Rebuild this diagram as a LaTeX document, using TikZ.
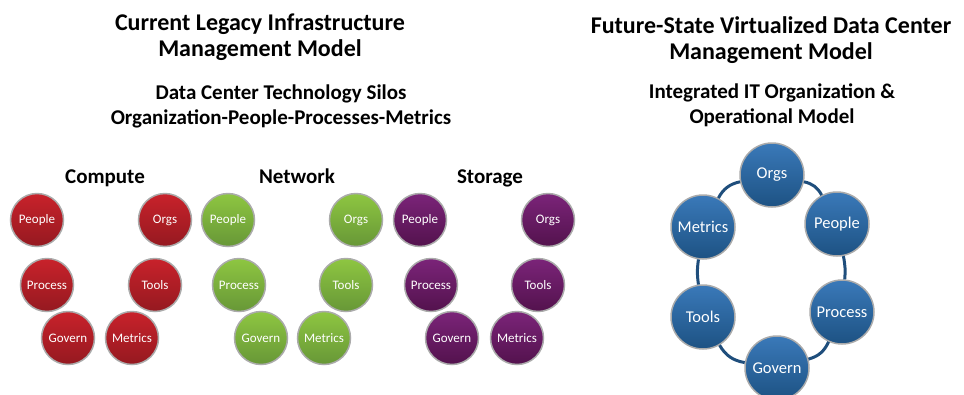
\documentclass[tikz,border=0pt]{standalone}
\usepackage{fontspec}
\setmainfont{Carlito}
\usepackage{tikz}
\usetikzlibrary{positioning}

\definecolor{computetop}{HTML}{C8222B}
\definecolor{computebot}{HTML}{951920}
\definecolor{networktop}{HTML}{8EC641}
\definecolor{networkbot}{HTML}{679737}
\definecolor{storagetop}{HTML}{7B2479}
\definecolor{storagebot}{HTML}{53124D}
\definecolor{ringtop}{HTML}{3A79B9}
\definecolor{ringbot}{HTML}{1D5283}
\definecolor{ringline}{HTML}{1F4E7C}
\definecolor{rim}{HTML}{ABABAB}

\tikzset{
	title/.style={align=center, font=\fontsize{24}{26}\selectfont\bfseries},
	subtitle/.style={align=center, font=\fontsize{21}{25}\selectfont\bfseries},
	silohead/.style={anchor=base, font=\fontsize{21}{22}\selectfont\bfseries},
	silo/.style={circle, draw=rim, line width=1.5pt, minimum size=53pt, inner sep=0pt, text=white, font=\fontsize{13}{13}\selectfont},
	computesilo/.style={silo, top color=computetop, bottom color=computebot},
	networksilo/.style={silo, top color=networktop, bottom color=networkbot},
	storagesilo/.style={silo, top color=storagetop, bottom color=storagebot},
	ringnode/.style={circle, draw=rim, line width=1.5pt, minimum size=64pt, inner sep=0pt, text=white, top color=ringtop, bottom color=ringbot, font=\fontsize{16.5}{16.5}\selectfont},
	ringlink/.style={draw=ringline, line width=3pt}
}

\begin{document}
\begin{tikzpicture}[x=1pt, y=1pt]
			\useasboundingbox (0,0) rectangle (964,-394);
			
			% left half: three silos
			\node[title] (lefttitle) at (260,-37) {Current Legacy Infrastructure\\Management Model};
			\node[subtitle] (leftsub) at (281,-106) {Data Center Technology Silos\\Organization-People-Processes-Metrics};
			
			\node[silohead] (compute) at (105,-183) {Compute};
			\node[silohead] (network) at (297,-183) {Network};
			\node[silohead] (storage) at (490,-183) {Storage};
			
			\node[computesilo] (cpeople) at (37,-220) {People};
			\node[computesilo] (corgs) at (165,-220) {Orgs};
			\node[computesilo] (cprocess) at (47,-285) {Process};
			\node[computesilo] (ctools) at (155,-285) {Tools};
			\node[computesilo] (cgovern) at (68,-338) {Govern};
			\node[computesilo] (cmetrics) at (132,-338) {Metrics};
			
			\node[networksilo] (npeople) at (228,-220) {People};
			\node[networksilo] (norgs) at (356,-220) {Orgs};
			\node[networksilo] (nprocess) at (239,-285) {Process};
			\node[networksilo] (ntools) at (346,-285) {Tools};
			\node[networksilo] (ngovern) at (261,-338) {Govern};
			\node[networksilo] (nmetrics) at (324,-338) {Metrics};
			
			\node[storagesilo] (speople) at (420,-220) {People};
			\node[storagesilo] (sorgs) at (548,-220) {Orgs};
			\node[storagesilo] (sprocess) at (431,-285) {Process};
			\node[storagesilo] (stools) at (538,-285) {Tools};
			\node[storagesilo] (sgovern) at (452,-338) {Govern};
			\node[storagesilo] (smetrics) at (517,-338) {Metrics};
			
			% right half: integrated ring
			\node[title] (righttitle) at (771,-40) {Future-State Virtualized Data Center\\Management Model};
			\node[subtitle] (rightsub) at (772,-105) {Integrated IT Organization \&\\Operational Model};
			
			\node[ringnode] (orgs) at (772,-175) {Orgs};
			\node[ringnode] (people) at (837,-224) {People};
			\node[ringnode] (process) at (842,-312) {Process};
			\node[ringnode] (govern) at (777,-368) {Govern};
			\node[ringnode] (tools) at (703,-317) {Tools};
			\node[ringnode] (metrics) at (703,-227) {Metrics};
			
			\draw[ringlink] (orgs) to[bend left=25] (people)
					(people) to[bend left=8] (process)
					(process) to[bend left=25] (govern)
					(govern) to[bend left=25] (tools)
					(tools) to[bend left=8] (metrics)
					(metrics) to[bend left=25] (orgs);
		\end{tikzpicture}
\end{document}
